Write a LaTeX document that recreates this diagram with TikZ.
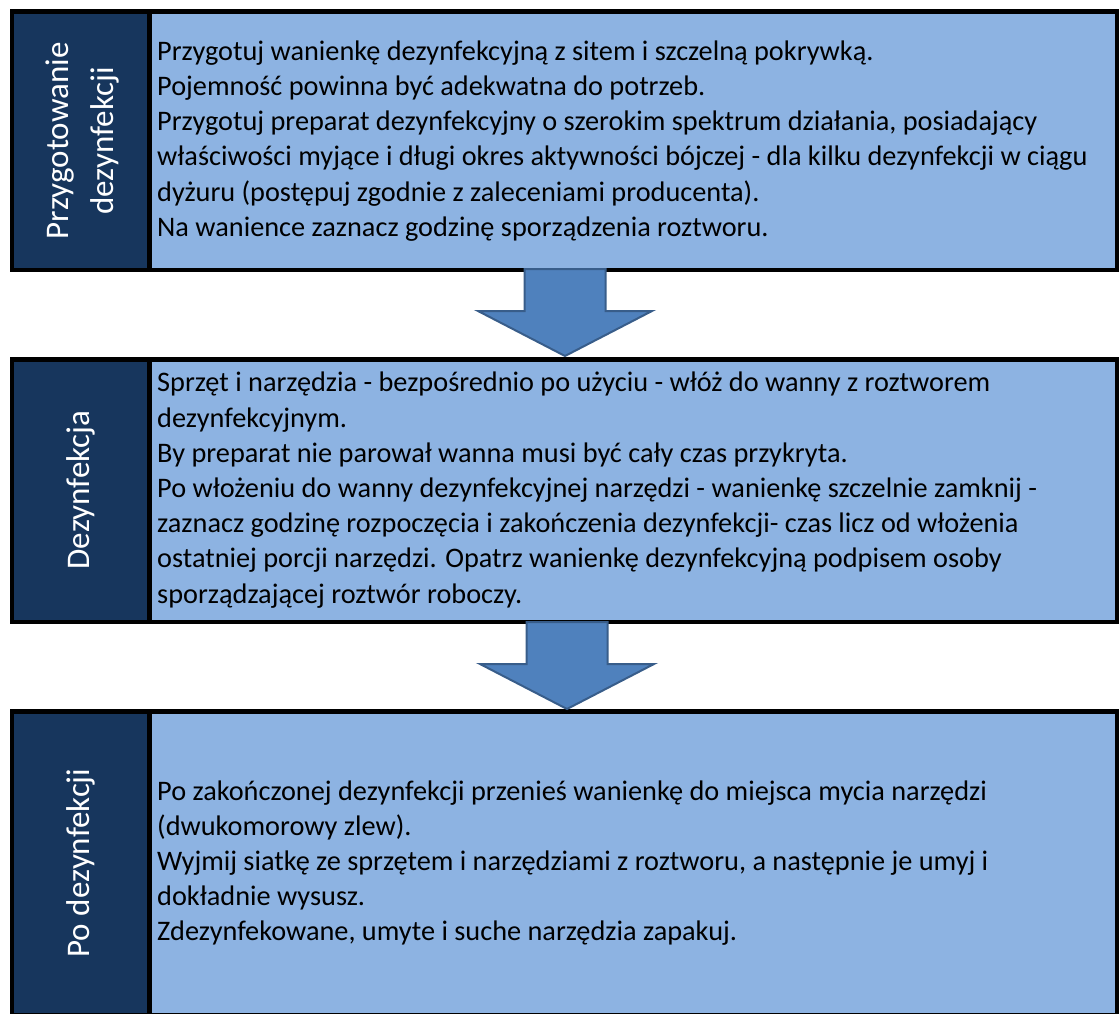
\documentclass[tikz,border=0pt]{standalone}
\usepackage{fontspec}
\setmainfont{Carlito}
\definecolor{sideblue}{HTML}{17365D}
\definecolor{stepblue}{HTML}{8DB3E2}
\definecolor{arrowfill}{HTML}{4F81BD}
\definecolor{arrowedge}{HTML}{385D8A}
\tikzset{
  bodytext/.style={anchor=west, align=left, inner sep=0pt, text=black,
    font=\fontsize{28.3}{35.2}\selectfont},
  sidetext/.style={rotate=90, align=center, inner sep=0pt, text=white,
    font=\fontsize{33}{45}\selectfont},
  blockarrow/.style={fill=arrowfill, draw=arrowedge, line width=2pt, line join=miter},
}
\begin{document}
\begin{tikzpicture}[x=1pt, y=-1pt]
    \useasboundingbox (0,0) rectangle (1120,1014);
    \clip (0,0) rectangle (1120,1014);
    % three steps: black frame, dark side box, light text box
    \foreach \top/\bot in {9/272, 357/624, 709/1020} {
      \fill[black] (10,\top) rectangle (1119,\bot);
      \fill[sideblue] (14,\top+5) rectangle (147,\bot-4);
      \fill[stepblue] (152,\top+5) rectangle (1115,\bot-4);
    }
    \fill[black] (10,1013) rectangle (1119,1020);
    \fill[sideblue] (14,714) rectangle (147,1013);
    \fill[stepblue] (152,714) rectangle (1115,1013);
    % side labels
    \node[sidetext] (side1) at (82,141) {Przygotowanie\\dezynfekcji};
    \node[sidetext] (side2) at (81,490) {Dezynfekcja};
    \node[sidetext] (side3) at (81,863) {Po dezynfekcji};
    % step texts
    \node[bodytext] (step1) at (157,141) {Przygotuj wanienkę dezynfekcyjną z sitem i szczelną pokrywką.\\
      Pojemność powinna być adekwatna do potrzeb.\\
      Przygotuj preparat dezynfekcyjny o szerokim spektrum działania, posiadający\\
      właściwości myjące i długi okres aktywności bójczej - dla kilku dezynfekcji w ciągu\\
      dyżuru (postępuj zgodnie z zaleceniami producenta).\\
      Na wanience zaznacz godzinę sporządzenia roztworu.};
    \node[bodytext] (step2) at (157,490) {Sprzęt i narzędzia - bezpośrednio po użyciu - włóż do wanny z roztworem\\
      dezynfekcyjnym.\\
      By preparat nie parował wanna musi być cały czas przykryta.\\
      Po włożeniu do wanny dezynfekcyjnej narzędzi - wanienkę szczelnie zamknij -\\
      zaznacz godzinę rozpoczęcia i zakończenia dezynfekcji- czas licz od włożenia\\
      ostatniej porcji narzędzi. Opatrz wanienkę dezynfekcyjną podpisem osoby\\
      sporządzającej roztwór roboczy.};
    \node[bodytext] (step3) at (157,863) {Po zakończonej dezynfekcji przenieś wanienkę do miejsca mycia narzędzi\\
      (dwukomorowy zlew).\\
      Wyjmij siatkę ze sprzętem i narzędziami z roztworu, a następnie je umyj i\\
      dokładnie wysusz.\\
      Zdezynfekowane, umyte i suche narzędzia zapakuj.};
    % block arrows between the steps
    \coordinate (tip1) at (565,356);
    \coordinate (tip2) at (567,709);
    \foreach \t in {tip1, tip2}
      \draw[blockarrow] (\t) -- ++(87,-45) -- ++(-46.5,0) -- ++(0,-42) -- ++(-81,0)
        -- ++(0,42) -- ++(-46.5,0) -- cycle;
\end{tikzpicture}
\end{document}
